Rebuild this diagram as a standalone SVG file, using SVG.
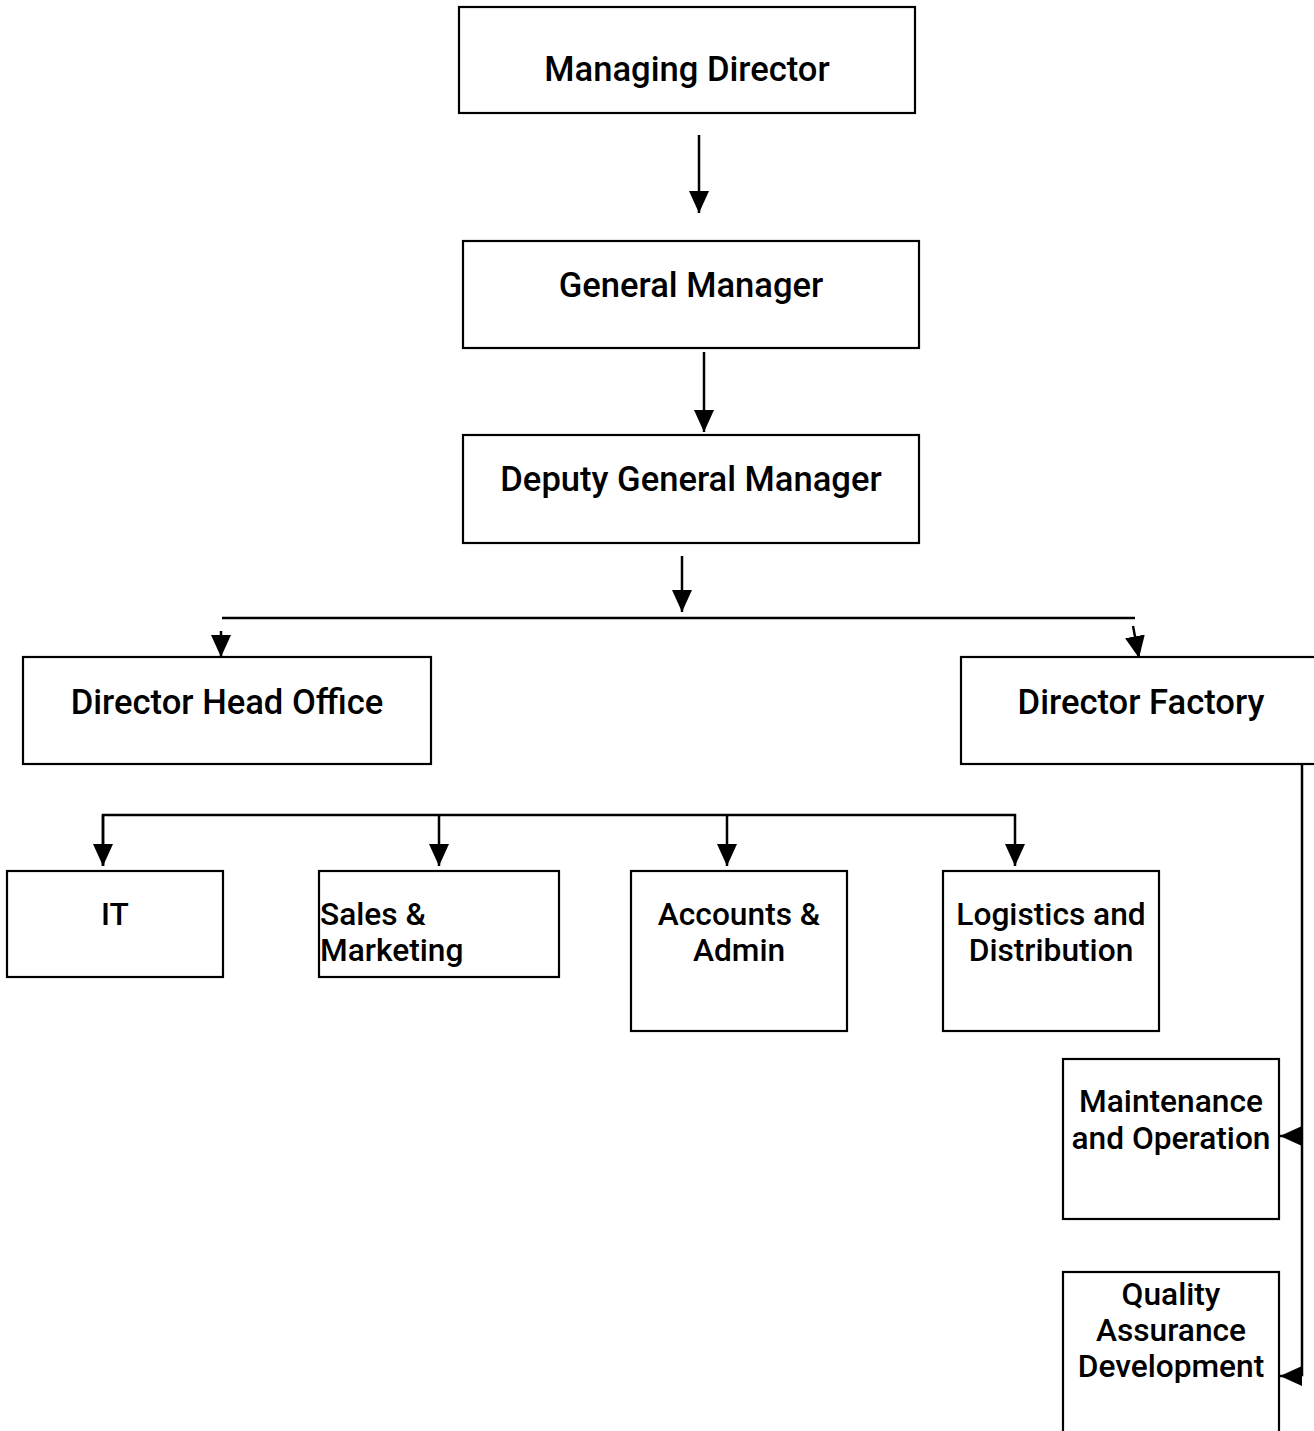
<svg xmlns="http://www.w3.org/2000/svg" width="1314" height="1431" viewBox="0 0 1314 1431">
<style>
  .box { fill: #ffffff; stroke: #000000; stroke-width: 2.2; }
  .t { font-family: Roboto, "Liberation Sans", sans-serif; font-size: 31.7px; font-weight: 500; fill: #000000; text-anchor: middle; }
  .big { font-size: 34.6px; }
  .tl { text-anchor: start; }
  .c { fill: none; stroke: #000000; stroke-width: 2.5; }
</style>
<defs>
  <marker id="ah2" viewBox="0 0 22 20" refX="22" refY="10" markerWidth="22" markerHeight="20" markerUnits="userSpaceOnUse" orient="auto">
    <path d="M0,0 L22,10 L0,20 Z" fill="#000000"/>
  </marker>
</defs>
<rect width="1314" height="1431" fill="#ffffff"/>

<g id="connectors">
  <line class="c" x1="699" y1="135" x2="699" y2="213" marker-end="url(#ah2)"/>
  <line class="c" x1="704" y1="352" x2="704" y2="432" marker-end="url(#ah2)"/>
  <line class="c" x1="682" y1="556" x2="682" y2="612" marker-end="url(#ah2)"/>
  <line class="c" x1="222" y1="618" x2="1135" y2="618"/>
  <line class="c" x1="221" y1="631" x2="221" y2="657" marker-end="url(#ah2)"/>
  <line class="c" x1="1133" y1="626" x2="1139" y2="658" marker-end="url(#ah2)"/>
  <path class="c" d="M103,866 L103,815 L1015,815 L1015,866" marker-end="url(#ah2)"/>
  <line class="c" x1="103" y1="815" x2="103" y2="866" marker-end="url(#ah2)"/>
  <line class="c" x1="439" y1="815" x2="439" y2="866" marker-end="url(#ah2)"/>
  <line class="c" x1="727" y1="815" x2="727" y2="866" marker-end="url(#ah2)"/>
  <path class="c" d="M1302,762 L1302,1375 L1297,1375"/>
  <line class="c" x1="1302" y1="1136" x2="1280" y2="1136" marker-end="url(#ah2)"/>
  <line class="c" x1="1298" y1="1376" x2="1280" y2="1376" marker-end="url(#ah2)"/>
</g>

<g id="managing-director">
  <rect class="box" x="459" y="7" width="456" height="106"/>
  <text class="t big" x="687" y="81">Managing Director</text>
</g>
<g id="general-manager">
  <rect class="box" x="463" y="241" width="456" height="107"/>
  <text class="t big" x="691" y="297">General Manager</text>
</g>
<g id="deputy-general-manager">
  <rect class="box" x="463" y="435" width="456" height="108"/>
  <text class="t big" x="691" y="491">Deputy General Manager</text>
</g>
<g id="director-head-office">
  <rect class="box" x="23" y="657" width="408" height="107"/>
  <text class="t big" x="227" y="714">Director Head Office</text>
</g>
<g id="director-factory">
  <rect class="box" x="961" y="657" width="360" height="107"/>
  <text class="t big" x="1141" y="714">Director Factory</text>
</g>
<g id="it">
  <rect class="box" x="7" y="871" width="216" height="106"/>
  <text class="t" x="115" y="925">IT</text>
</g>
<g id="sales-marketing">
  <rect class="box" x="319" y="871" width="240" height="106"/>
  <text class="t tl" x="320" y="925">Sales &amp;</text>
  <text class="t tl" x="320" y="961">Marketing</text>
</g>
<g id="accounts-admin">
  <rect class="box" x="631" y="871" width="216" height="160"/>
  <text class="t" x="739" y="925">Accounts &amp;</text>
  <text class="t" x="739" y="961">Admin</text>
</g>
<g id="logistics-distribution">
  <rect class="box" x="943" y="871" width="216" height="160"/>
  <text class="t" x="1051" y="925">Logistics and</text>
  <text class="t" x="1051" y="961">Distribution</text>
</g>
<g id="maintenance-operation">
  <rect class="box" x="1063" y="1059" width="216" height="160"/>
  <text class="t" x="1171" y="1112">Maintenance</text>
  <text class="t" x="1171" y="1149">and Operation</text>
</g>
<g id="quality-assurance">
  <rect class="box" x="1063" y="1272" width="216" height="170"/>
  <text class="t" x="1171" y="1305">Quality</text>
  <text class="t" x="1171" y="1341">Assurance</text>
  <text class="t" x="1171" y="1377">Development</text>
</g>
</svg>
